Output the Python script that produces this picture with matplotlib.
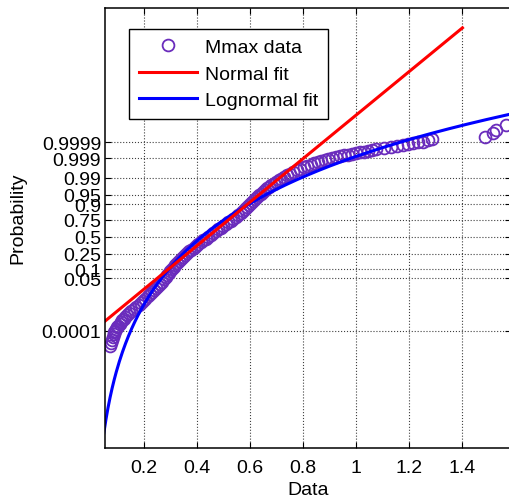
from statistics import NormalDist
import numpy as np
import matplotlib
matplotlib.use('Agg')
import matplotlib.pyplot as plt

plt.rcParams['font.family'] = ['Liberation Sans', 'DejaVu Sans']

# sorted Mmax values and their normal scores (plotting positions)
mmax = [0.0731, 0.0750, 0.0787, 0.0825, 0.0863, 0.0891, 0.0919, 0.0957, 0.0994, 0.1042,
        0.1089, 0.1136, 0.1183, 0.1240, 0.1296, 0.1371, 0.1446, 0.1531, 0.1616, 0.1710,
        0.1804, 0.1889, 0.1973, 0.2058, 0.2143, 0.2228, 0.2312, 0.2388, 0.2463, 0.2538,
        0.2613, 0.2689, 0.2764, 0.2821, 0.2877, 0.2934, 0.2990, 0.3056, 0.3122, 0.3188,
        0.3254, 0.3329, 0.3404, 0.3480, 0.3555, 0.3630, 0.3705, 0.3790, 0.3875, 0.3960,
        0.4044, 0.4139, 0.4233, 0.4327, 0.4421, 0.4515, 0.4609, 0.4703, 0.4797, 0.4892,
        0.4986, 0.5080, 0.5174, 0.5268, 0.5362, 0.5456, 0.5550, 0.5645, 0.5739, 0.5814,
        0.5889, 0.5965, 0.6040, 0.6115, 0.6190, 0.6266, 0.6341, 0.6417, 0.6492, 0.6567,
        0.6642, 0.6718, 0.6793, 0.6887, 0.6981, 0.7075, 0.7169, 0.7282, 0.7395, 0.7508,
        0.7621, 0.7753, 0.7884, 0.8016, 0.8148, 0.8280, 0.8412, 0.8544, 0.8675, 0.8807,
        0.8939, 0.9090, 0.9240, 0.9391, 0.9541, 0.9692, 0.9842, 0.9993, 1.0143, 1.0294,
        1.0445, 1.0596, 1.0746, 1.1047, 1.1310, 1.1536, 1.1762, 1.1950, 1.2138, 1.2327,
        1.2515, 1.2703, 1.2854, 1.4850, 1.5162, 1.5264, 1.5622]
score = [-4.310, -4.192, -4.074, -3.955, -3.837, -3.778, -3.719, -3.650, -3.581, -3.512,
         -3.443, -3.374, -3.305, -3.236, -3.167, -3.088, -3.009, -2.931, -2.852, -2.773,
         -2.694, -2.615, -2.536, -2.448, -2.359, -2.271, -2.182, -2.103, -2.024, -1.945,
         -1.866, -1.778, -1.689, -1.601, -1.512, -1.433, -1.354, -1.275, -1.196, -1.118,
         -1.039, -0.960, -0.881, -0.802, -0.723, -0.654, -0.585, -0.516, -0.447, -0.378,
         -0.309, -0.231, -0.152, -0.083, -0.014, 0.065, 0.144, 0.213, 0.282, 0.351,
         0.420, 0.489, 0.558, 0.627, 0.696, 0.775, 0.853, 0.932, 1.011, 1.090,
         1.169, 1.248, 1.326, 1.405, 1.484, 1.553, 1.622, 1.691, 1.760, 1.829,
         1.898, 1.957, 2.016, 2.085, 2.154, 2.213, 2.272, 2.341, 2.410, 2.479,
         2.548, 2.608, 2.667, 2.726, 2.785, 2.834, 2.883, 2.923, 2.962, 3.002,
         3.041, 3.081, 3.120, 3.160, 3.199, 3.229, 3.258, 3.288, 3.317, 3.347,
         3.376, 3.406, 3.435, 3.494, 3.534, 3.573, 3.613, 3.652, 3.691, 3.731,
         3.750, 3.790, 3.829, 3.916, 4.066, 4.204, 4.401]

# fitted parameters
norm_mu, norm_sigma = 0.442, 0.1164
logn_mu, logn_sigma = -0.87, 0.275

prob_ticks = [0.0001, 0.05, 0.1, 0.25, 0.5, 0.75, 0.9, 0.95, 0.99, 0.999, 0.9999]
prob_labels = ['0.0001', '0.05', '0.1', '0.25', '0.5', '0.75', '0.9', '0.95', '0.99', '0.999', '0.9999']
x_ticks = [0.2, 0.4, 0.6, 0.8, 1.0, 1.2, 1.4]
x_labels = ['0.2', '0.4', '0.6', '0.8', '1', '1.2', '1.4']

fig = plt.figure(figsize=(5.1, 5.02), dpi=100)
ax = fig.add_axes([0.2065, 0.1062, 0.7955, 0.8753])

purple = '#6a2cbc'
h_data, = ax.plot(mmax, score, 'o', mfc='none', mec=purple, ms=8.5, mew=1.3)

xl = np.linspace(0.05, 1.6, 400)
h_logn, = ax.plot(xl, (np.log(xl) - logn_mu) / logn_sigma, color='#0000ff', lw=2.2)
xn = np.linspace(0.05, 1.4, 50)
h_norm, = ax.plot(xn, (xn - norm_mu) / norm_sigma, color='#ff0000', lw=2.2)

ax.set_xlim(0.0554, 1.5829)
ax.set_ylim(-8.319, 9.001)
ax.set_xticks(x_ticks)
ax.set_xticklabels(x_labels)
ax.set_yticks([NormalDist().inv_cdf(p) for p in prob_ticks])
ax.set_yticklabels(prob_labels)
ax.tick_params(direction='in', top=True, right=True, length=4, width=0.8,
               labelsize=14, colors='black')
ax.tick_params(axis='x', pad=8)
ax.tick_params(axis='y', pad=3)
ax.grid(True, linestyle=':', color='0.25', linewidth=0.8)
for s in ax.spines.values():
    s.set_linewidth(1.1)

ax.set_xlabel('Data', fontsize=14, labelpad=4)
ax.set_ylabel('Probability', fontsize=14)
ax.yaxis.set_label_coords(-0.195, 0.525)

leg = ax.legend([h_data, h_norm, h_logn], ['Mmax data', 'Normal fit', 'Lognormal fit'],
                loc='upper left', bbox_to_anchor=(0.059, 0.953), borderaxespad=0,
                fontsize=14, numpoints=1, handlelength=3.0, handletextpad=0.4,
                labelspacing=0.45, borderpad=0.5, fancybox=False, framealpha=1)
leg.get_frame().set_edgecolor('black')
leg.get_frame().set_linewidth(1.0)

fig.savefig('out.png', dpi=100)
